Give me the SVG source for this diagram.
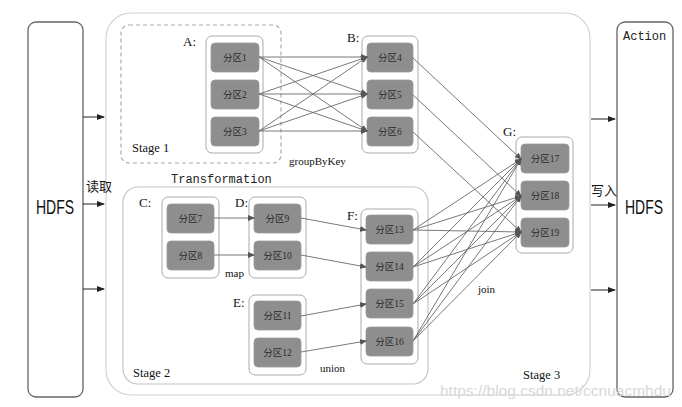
<svg xmlns="http://www.w3.org/2000/svg" width="682" height="407" viewBox="0 0 682 407">
<defs>
<marker id="ah" markerWidth="7" markerHeight="6" refX="6" refY="3" orient="auto" markerUnits="userSpaceOnUse">
<path d="M0,0 L7,3 L0,6 z" fill="#555"/>
</marker>
<marker id="ahb" markerWidth="8" markerHeight="6" refX="7" refY="3" orient="auto" markerUnits="userSpaceOnUse">
<path d="M0,0 L8,3 L0,6 z" fill="#222"/>
</marker>
<style>
.bg{fill:#fff}
.store{fill:#fff;stroke:#666;stroke-width:1.3}
.outer{fill:none;stroke:#d0d0d0;stroke-width:1.2}
.stage2{fill:none;stroke:#c4c4c4;stroke-width:1.2}
.stage1{fill:none;stroke:#aaa;stroke-width:1.2;stroke-dasharray:4 3}
.cont{fill:#fff;stroke:#aaa;stroke-width:1}
.part{fill:#8e8e8e;stroke:#9a9a9a;stroke-width:0.8}
.pt{font-family:"Liberation Serif","Noto Sans CJK SC",serif;font-size:9.5px;fill:#2a2a2a;text-anchor:middle}
.lab{font-family:"Liberation Serif","Noto Sans CJK SC",serif;font-size:13px;fill:#111}
.op{font-family:"Liberation Serif",serif;font-size:11px;fill:#111}
.stg{font-family:"Liberation Serif",serif;font-size:12.5px;fill:#111}
.mono{font-family:"Liberation Mono",monospace;font-size:12px;fill:#222}
.hdfs{font-family:"Liberation Sans",sans-serif;font-size:20px;fill:#111}
.cjk{font-family:"Noto Sans CJK SC",sans-serif;font-size:13px;fill:#111}
.ln{stroke:#6a6a6a;stroke-width:0.9;fill:none;marker-end:url(#ah)}
.io{stroke:#222;stroke-width:1;fill:none;marker-end:url(#ahb)}
.wm{font-family:"Liberation Sans",sans-serif;font-size:15.5px;fill:#d8d8d8}
</style>
</defs>
<rect class="bg" x="0" y="0" width="682" height="407"/>

<g id="hdfs-in">
<rect class="store" x="28" y="22" width="55" height="375" rx="8"/>
<text class="hdfs" x="36" y="214" textLength="38" lengthAdjust="spacingAndGlyphs">HDFS</text>
</g>
<g id="hdfs-out">
<rect class="store" x="617" y="22" width="56" height="375" rx="8"/>
<text class="mono" x="623" y="40">Action</text>
<text class="hdfs" x="625" y="214" textLength="38" lengthAdjust="spacingAndGlyphs">HDFS</text>
</g>

<g id="stage3">
<rect class="outer" x="106" y="13" width="484" height="382" rx="25"/>
<text class="stg" x="523" y="379">Stage 3</text>
</g>
<g id="stage1">
<rect class="stage1" x="121" y="25" width="160" height="138" rx="8"/>
<text class="stg" x="132" y="152">Stage 1</text>
</g>
<g id="stage2">
<rect class="stage2" x="123" y="187" width="305" height="197" rx="15"/>
<text class="stg" x="133" y="377">Stage 2</text>
</g>
<text class="mono" x="171" y="183">Transformation</text>
<text class="cjk" x="86" y="191">读取</text>
<text class="cjk" x="591" y="195">写入</text>

<g id="rdd-A">
<text class="lab" x="183" y="46">A:</text>
<rect class="cont" x="206" y="36" width="57" height="117" rx="6"/>
<rect class="part" x="211" y="43" width="48" height="29" rx="4"/><text class="pt" x="235" y="61">分区1</text>
<rect class="part" x="211" y="80" width="48" height="29" rx="4"/><text class="pt" x="235" y="98">分区2</text>
<rect class="part" x="211" y="117" width="48" height="29" rx="4"/><text class="pt" x="235" y="135">分区3</text>
</g>
<g id="rdd-B">
<text class="lab" x="347" y="42">B:</text>
<rect class="cont" x="362" y="36" width="56" height="117" rx="6"/>
<rect class="part" x="367" y="43" width="46" height="29" rx="4"/><text class="pt" x="390" y="61">分区4</text>
<rect class="part" x="367" y="80" width="46" height="29" rx="4"/><text class="pt" x="390" y="98">分区5</text>
<rect class="part" x="367" y="117" width="46" height="29" rx="4"/><text class="pt" x="390" y="135">分区6</text>
</g>
<g id="rdd-G">
<text class="lab" x="503" y="136">G:</text>
<rect class="cont" x="516" y="137" width="57" height="116" rx="6"/>
<rect class="part" x="521" y="144" width="48" height="29" rx="4"/><text class="pt" x="545" y="162">分区17</text>
<rect class="part" x="521" y="181" width="48" height="29" rx="4"/><text class="pt" x="545" y="199">分区18</text>
<rect class="part" x="521" y="218" width="48" height="29" rx="4"/><text class="pt" x="545" y="236">分区19</text>
</g>
<g id="rdd-C">
<text class="lab" x="139" y="207">C:</text>
<rect class="cont" x="162" y="197" width="57" height="81" rx="6"/>
<rect class="part" x="167" y="204" width="47" height="29" rx="4"/><text class="pt" x="190.5" y="222">分区7</text>
<rect class="part" x="167" y="241" width="47" height="29" rx="4"/><text class="pt" x="190.5" y="259">分区8</text>
</g>
<g id="rdd-D">
<text class="lab" x="235" y="207">D:</text>
<rect class="cont" x="249" y="197" width="57" height="81" rx="6"/>
<rect class="part" x="254" y="204" width="47" height="29" rx="4"/><text class="pt" x="277.5" y="222">分区9</text>
<rect class="part" x="254" y="241" width="47" height="29" rx="4"/><text class="pt" x="277.5" y="259">分区10</text>
</g>
<g id="rdd-E">
<text class="lab" x="233" y="307">E:</text>
<rect class="cont" x="249" y="295" width="57" height="80" rx="6"/>
<rect class="part" x="254" y="301" width="47" height="29" rx="4"/><text class="pt" x="277.5" y="319">分区11</text>
<rect class="part" x="254" y="338" width="47" height="29" rx="4"/><text class="pt" x="277.5" y="356">分区12</text>
</g>
<g id="rdd-F">
<text class="lab" x="347" y="220">F:</text>
<rect class="cont" x="361" y="209" width="57" height="155" rx="6"/>
<rect class="part" x="366" y="215" width="47" height="29" rx="4"/><text class="pt" x="389.5" y="233">分区13</text>
<rect class="part" x="366" y="252" width="47" height="29" rx="4"/><text class="pt" x="389.5" y="270">分区14</text>
<rect class="part" x="366" y="289" width="47" height="29" rx="4"/><text class="pt" x="389.5" y="307">分区15</text>
<rect class="part" x="366" y="327" width="47" height="29" rx="4"/><text class="pt" x="389.5" y="345">分区16</text>
</g>

<g id="op-labels">
<text class="op" x="289" y="165">groupByKey</text>
<text class="op" x="225" y="277">map</text>
<text class="op" x="320" y="372">union</text>
<text class="op" x="478" y="293">join</text>
</g>

<g id="connectors">
<line class="io" x1="83" y1="117" x2="104" y2="117"/>
<line class="io" x1="83" y1="204" x2="104" y2="204"/>
<line class="io" x1="83" y1="289" x2="104" y2="289"/>
<line class="io" x1="591" y1="119" x2="615" y2="119"/>
<line class="io" x1="591" y1="205" x2="615" y2="205"/>
<line class="io" x1="591" y1="290" x2="615" y2="290"/>

<line class="ln" x1="259" y1="57" x2="367" y2="57"/>
<line class="ln" x1="259" y1="57" x2="367" y2="94"/>
<line class="ln" x1="259" y1="57" x2="367" y2="131"/>
<line class="ln" x1="259" y1="94" x2="367" y2="57"/>
<line class="ln" x1="259" y1="94" x2="367" y2="94"/>
<line class="ln" x1="259" y1="94" x2="367" y2="131"/>
<line class="ln" x1="259" y1="131" x2="367" y2="57"/>
<line class="ln" x1="259" y1="131" x2="367" y2="94"/>
<line class="ln" x1="259" y1="131" x2="367" y2="131"/>

<line class="ln" x1="413" y1="58" x2="521" y2="159"/>
<line class="ln" x1="413" y1="95" x2="521" y2="196"/>
<line class="ln" x1="413" y1="132" x2="521" y2="232"/>

<line class="ln" x1="214" y1="218" x2="254" y2="218"/>
<line class="ln" x1="214" y1="255" x2="254" y2="255"/>
<line class="ln" x1="301" y1="218" x2="366" y2="230"/>
<line class="ln" x1="301" y1="255" x2="366" y2="267"/>
<line class="ln" x1="301" y1="316" x2="366" y2="304"/>
<line class="ln" x1="301" y1="352" x2="366" y2="341"/>

<line class="ln" x1="413" y1="230" x2="521" y2="159"/>
<line class="ln" x1="413" y1="230" x2="521" y2="196"/>
<line class="ln" x1="413" y1="230" x2="521" y2="232"/>
<line class="ln" x1="413" y1="267" x2="521" y2="159"/>
<line class="ln" x1="413" y1="267" x2="521" y2="196"/>
<line class="ln" x1="413" y1="267" x2="521" y2="232"/>
<line class="ln" x1="413" y1="304" x2="521" y2="159"/>
<line class="ln" x1="413" y1="304" x2="521" y2="196"/>
<line class="ln" x1="413" y1="304" x2="521" y2="232"/>
<line class="ln" x1="413" y1="341" x2="521" y2="159"/>
<line class="ln" x1="413" y1="341" x2="521" y2="196"/>
<line class="ln" x1="413" y1="341" x2="521" y2="232"/>
</g>

<text class="wm" x="440" y="396">https://blog.csdn.net/ccnuacmhdu</text>
</svg>
